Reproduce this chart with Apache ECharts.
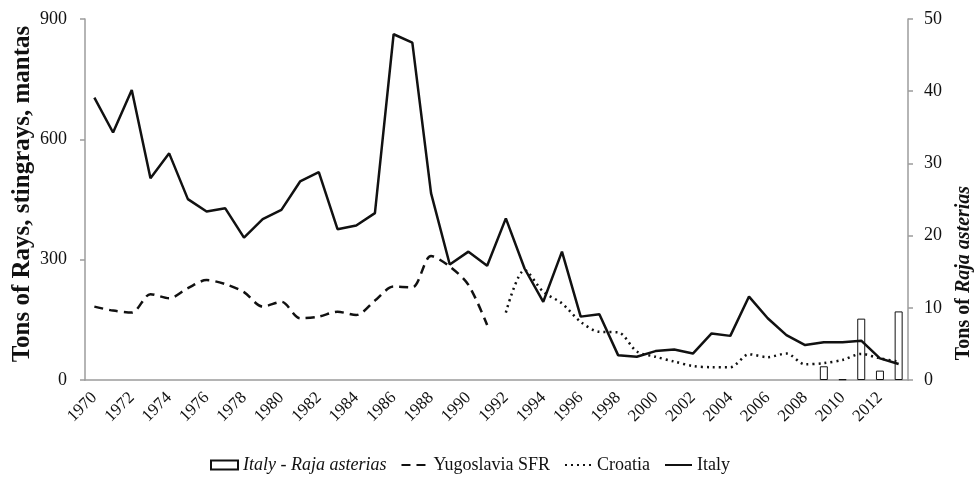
<!DOCTYPE html>
<html>
<head>
<meta charset="utf-8">
<script src="https://cdn.jsdelivr.net/npm/echarts@6/dist/echarts.min.js"></script>
<style>
  html, body { margin: 0; padding: 0; background: #fff; }
  #chart { width: 975px; height: 482px; }
</style>
</head>
<body>
<div id="chart"></div>
<script>
// years on the x axis
const years = [];
for (let y = 1970; y <= 2013; y++) years.push(String(y));

// tons (left axis)
const italy = [704, 617, 723, 503, 565, 451, 420, 428, 355, 401,
  424, 495, 518, 376, 385, 416, 862, 841, 466, 288,
  320, 285, 403, 278, 195, 320, 158, 164, 62, 58,
  72, 76, 66, 116, 110, 208, 154, 112, 87, 94,
  94, 98, 54, 40];
const yugoslavia = [183, 173, 168, 214, 204, 229, 249, 239, 219, 183,
  195, 154, 158, 170, 162, 198, 233, 231, 309, 283,
  237, 137, null, null, null, null, null, null, null, null,
  null, null, null, null, null, null, null, null, null, null,
  null, null, null, null];
const croatia = [null, null, null, null, null, null, null, null, null, null,
  null, null, null, null, null, null, null, null, null, null,
  null, null, 168, 274, 220, 191, 145, 120, 119, 71,
  58, 46, 35, 32, 32, 64, 57, 66, 39, 42,
  50, 65, 54, 46];
// Raja asterias, tons (right axis)
const rajaAsterias = [null, null, null, null, null, null, null, null, null, null,
  null, null, null, null, null, null, null, null, null, null,
  null, null, null, null, null, null, null, null, null, null,
  null, null, null, null, null, null, null, null, null, 1.9,
  0.1, 8.5, 1.3, 9.5];

const leftTicks = [0, 300, 600, 900];
const rightTicks = [0, 10, 20, 30, 40, 50];

const serif = '"Liberation Serif", "DejaVu Serif", serif';
const axisGrey = '#9c9c9c';

const chart = echarts.init(document.getElementById('chart'));

const noSymbol = { opacity: 0, borderWidth: 0 };

const option = {
  backgroundColor: '#fff',
  animation: false,
  grid: { left: 85, right: 67, top: 19, bottom: 102 },
  legend: {
    left: 205,
    top: 451,
    itemWidth: 27,
    itemHeight: 9,
    itemGap: 14,
    textStyle: {
      fontFamily: serif, fontSize: 18, color: '#111',
      rich: { i: { fontFamily: serif, fontSize: 18, fontStyle: 'italic', color: '#111' } }
    },
    formatter: function (name) {
      return name === 'Italy - Raja asterias' ? '{i|' + name + '}' : name;
    },
    data: [
      { name: 'Italy - Raja asterias', icon: 'rect' },
      { name: 'Yugoslavia SFR', itemStyle: noSymbol },
      { name: 'Croatia', itemStyle: noSymbol },
      { name: 'Italy', itemStyle: noSymbol }
    ]
  },
  xAxis: {
    type: 'category',
    data: years,
    boundaryGap: true,
    axisLine: { lineStyle: { color: axisGrey, width: 1.5 } },
    axisTick: { interval: 0, length: 5, lineStyle: { color: axisGrey, width: 1.5 } },
    axisLabel: {
      interval: 1, rotate: 45, margin: 15,
      fontFamily: serif, fontSize: 17, color: '#111'
    }
  },
  yAxis: [
    {
      type: 'value', min: leftTicks[0], max: leftTicks[leftTicks.length - 1], interval: 300,
      splitLine: { show: false },
      axisLine: { show: true, lineStyle: { color: axisGrey, width: 1.5 } },
      axisTick: { show: true, length: 5, lineStyle: { color: axisGrey, width: 1.5 } },
      axisLabel: { fontFamily: serif, fontSize: 18, color: '#111', margin: 18 }
    },
    {
      type: 'value', min: rightTicks[0], max: rightTicks[rightTicks.length - 1], interval: 10,
      splitLine: { show: false },
      axisLine: { show: true, lineStyle: { color: axisGrey, width: 1.5 } },
      axisTick: { show: true, length: 5, lineStyle: { color: axisGrey, width: 1.5 } },
      axisLabel: { fontFamily: serif, fontSize: 18, color: '#111', margin: 16 }
    }
  ],
  graphic: [
    {
      type: 'text', x: 23, y: 194, rotation: Math.PI / 2,
      style: {
        text: 'Tons of Rays, stingrays, mantas',
        font: 'bold 25px ' + serif,
        fill: '#111', align: 'center', verticalAlign: 'middle'
      }
    },
    {
      type: 'text', x: 964, y: 273, rotation: Math.PI / 2,
      style: {
        text: '{b|Tons of }{bi|Raja asterias}',
        fill: '#111', align: 'center', verticalAlign: 'middle',
        rich: {
          b: { font: 'bold 20px ' + serif, fill: '#111' },
          bi: { font: 'italic bold 20px ' + serif, fill: '#111' }
        }
      }
    }
  ],
  series: [
    {
      name: 'Italy - Raja asterias',
      type: 'bar',
      yAxisIndex: 1,
      barWidth: 8,
      data: rajaAsterias,
      itemStyle: { color: '#fff', borderColor: '#111', borderWidth: 1 }
    },
    {
      name: 'Yugoslavia SFR',
      type: 'line',
      data: yugoslavia,
      symbol: 'none',
      smooth: 0.3,
      lineStyle: { color: '#111', width: 2.5, type: [9, 6] },
      itemStyle: { color: '#111' }
    },
    {
      name: 'Croatia',
      type: 'line',
      data: croatia,
      symbol: 'none',
      smooth: 0.3,
      lineStyle: { color: '#111', width: 2.5, type: [2, 4] },
      itemStyle: { color: '#111' }
    },
    {
      name: 'Italy',
      type: 'line',
      data: italy,
      symbol: 'none',
      lineStyle: { color: '#111', width: 2.5 },
      itemStyle: { color: '#111' }
    }
  ]
};

chart.setOption(option);
</script>
</body>
</html>
